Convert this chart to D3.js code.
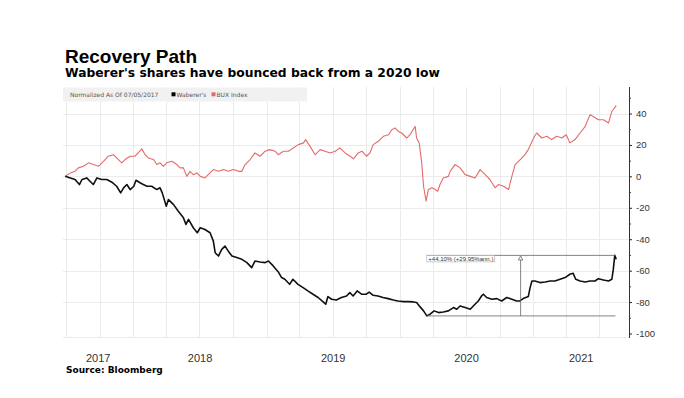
<!DOCTYPE html>
<html>
<head>
<meta charset="utf-8">
<script src="https://cdn.jsdelivr.net/npm/d3@7"></script>
<style>
  html, body { margin: 0; padding: 0; background: #fff; }
  svg { display: block; }
</style>
</head>
<body>
<svg id="chart" width="684" height="398"></svg>
<script>
// ---------------- DATA ----------------
const titleText = "Recovery Path";
const subtitleText = "Waberer's shares have bounced back from a 2020 low";
const sourceText = "Source: Bloomberg";
const legendNote = "Normalized As Of 07/05/2017";
const seriesNames = ["Waberer's", "BUX Index"];
const yearLabels = [2017, 2018, 2019, 2020, 2021];
const yTickValues = [40, 20, 0, -20, -40, -60, -80, -100];
const yMinorTickValues = [50, 30, 10, -10, -30, -50, -70, -90];

const wabDates = ["2017-06-28","2017-07-12","2017-07-25","2017-08-06","2017-08-13","2017-08-26","2017-09-04","2017-09-13","2017-09-23","2017-10-06","2017-10-20","2017-11-03","2017-11-16","2017-11-27","2017-12-05","2017-12-14","2017-12-23","2018-01-02","2018-01-08","2018-01-19","2018-01-28","2018-02-07","2018-02-20","2018-03-06","2018-03-15","2018-03-21","2018-04-01","2018-04-07","2018-04-21","2018-05-04","2018-05-18","2018-05-25","2018-06-01","2018-06-14","2018-06-25","2018-07-03","2018-07-16","2018-07-30","2018-08-08","2018-08-13","2018-08-22","2018-08-31","2018-09-09","2018-09-18","2018-09-28","2018-10-11","2018-10-25","2018-11-08","2018-11-21","2018-11-30","2018-12-14","2018-12-28","2019-01-06","2019-01-19","2019-02-02","2019-02-11","2019-02-20","2019-03-05","2019-03-14","2019-03-28","2019-04-11","2019-04-24","2019-05-08","2019-05-22","2019-06-05","2019-06-12","2019-06-18","2019-06-28","2019-07-11","2019-07-25","2019-08-08","2019-08-17","2019-08-26","2019-09-06","2019-09-18","2019-10-01","2019-10-09","2019-10-20","2019-11-02","2019-11-16","2019-11-30","2019-12-14","2019-12-27","2020-01-11","2020-01-24","2020-02-07","2020-02-16","2020-02-25","2020-03-06","2020-03-15","2020-03-24","2020-04-04","2020-04-16","2020-04-29","2020-05-13","2020-05-27","2020-06-05","2020-06-14","2020-06-28","2020-07-12","2020-07-25","2020-08-03","2020-08-12","2020-08-17","2020-08-26","2020-09-09","2020-09-23","2020-10-06","2020-10-20","2020-11-03","2020-11-16","2020-11-25","2020-12-04","2020-12-18","2020-12-23","2020-12-28","2021-01-05","2021-01-19","2021-02-02","2021-02-16","2021-03-01","2021-03-15","2021-03-29","2021-04-11","2021-04-20","2021-04-27","2021-05-09","2021-05-23","2021-06-05","2021-06-19","2021-06-28","2021-07-12","2021-07-26","2021-08-04","2021-08-08","2021-08-12","2021-08-16"];
const wabValues = [0,-1,-2,-5.2,-2,-1,-3.1,-5.2,-1,-2,-2,-3.7,-6.3,-10.5,-7.3,-5.2,-8.4,-6.3,-2.5,-4.1,-5.2,-6.3,-6.3,-8.4,-7.3,-10.5,-19,-14.8,-18,-22.2,-26.4,-30.6,-27.4,-32.7,-35.9,-32.7,-33.8,-35.9,-41.2,-48.6,-50.7,-46.5,-44.4,-47.6,-50.7,-51.7,-52.8,-54.9,-58.1,-53.9,-54.5,-54.9,-53.9,-57,-60.8,-64.4,-65.5,-68.7,-65.5,-68.7,-70.8,-72.9,-75,-77.1,-79.9,-81.4,-76.5,-78.2,-78.7,-77.1,-76.1,-74,-76.1,-72.9,-75,-75,-73.6,-75.7,-76.1,-77.1,-77.8,-78.7,-79.3,-79.7,-79.7,-79.9,-80.3,-82.9,-85.6,-88.8,-87.7,-85.6,-86.7,-86.3,-85.6,-83.5,-84.6,-82.5,-83.5,-84.6,-81.4,-79.3,-76.1,-75,-77.1,-78.2,-77.8,-79.3,-77.1,-78.2,-79.3,-79.3,-77.8,-76.5,-70.8,-66.6,-66.6,-67.6,-67.2,-66.6,-66.6,-65.5,-64.4,-62.3,-61.7,-65.5,-66.6,-67.2,-66.6,-66.6,-65.1,-66,-66.6,-65.5,-59.2,-50.3,-52.8];

const buxDates = ["2017-06-28","2017-07-12","2017-07-25","2017-08-03","2017-08-17","2017-08-31","2017-09-13","2017-09-27","2017-10-11","2017-10-24","2017-11-07","2017-11-16","2017-11-30","2017-12-09","2017-12-23","2018-01-05","2018-01-14","2018-01-24","2018-02-02","2018-02-11","2018-02-25","2018-03-06","2018-03-15","2018-03-24","2018-04-02","2018-04-16","2018-04-30","2018-05-09","2018-05-18","2018-05-27","2018-06-05","2018-06-14","2018-06-24","2018-07-03","2018-07-16","2018-07-25","2018-08-08","2018-08-22","2018-09-05","2018-09-18","2018-10-02","2018-10-16","2018-10-25","2018-11-03","2018-11-17","2018-11-30","2018-12-14","2018-12-28","2019-01-10","2019-01-24","2019-02-02","2019-02-16","2019-03-02","2019-03-15","2019-03-29","2019-04-12","2019-04-18","2019-04-30","2019-05-14","2019-05-28","2019-06-10","2019-06-24","2019-07-08","2019-07-21","2019-08-04","2019-08-18","2019-08-27","2019-09-09","2019-09-19","2019-10-02","2019-10-11","2019-10-20","2019-11-03","2019-11-17","2019-12-01","2019-12-10","2019-12-19","2019-12-28","2020-01-06","2020-01-20","2020-01-29","2020-02-06","2020-02-12","2020-02-16","2020-02-23","2020-03-01","2020-03-06","2020-03-13","2020-03-19","2020-03-29","2020-04-07","2020-04-14","2020-04-20","2020-04-29","2020-05-13","2020-05-18","2020-05-31","2020-06-14","2020-06-28","2020-07-12","2020-07-25","2020-08-08","2020-08-22","2020-09-04","2020-09-18","2020-09-27","2020-10-11","2020-10-25","2020-11-03","2020-11-12","2020-11-26","2020-12-09","2020-12-18","2021-01-04","2021-01-10","2021-01-24","2021-02-07","2021-02-20","2021-03-06","2021-03-20","2021-04-01","2021-04-11","2021-04-25","2021-05-09","2021-05-23","2021-06-05","2021-06-14","2021-06-28","2021-07-12","2021-07-26","2021-08-04","2021-08-16"];
const buxValues = [0,2.2,3.2,5.4,6.4,8.6,7.5,6.4,9.6,12.8,13.8,11.7,8.6,10.7,12.8,12.8,14.9,17.5,13.8,11.7,10.7,7.5,8.6,6.4,8.6,9.6,7.5,5.4,5.4,0,3.2,1.1,2.2,0,-1,1.1,4.3,3.2,4.3,3.2,4.3,3.2,3.2,7.5,10.7,14.9,12.8,16,17,16,13.8,16,16,18.1,20.2,21.3,23.4,19.1,13.8,17,16,14.9,16,18.1,14.9,12.8,11.1,14.9,16,12.8,14.9,20.2,22.3,25.5,26.5,29.7,30.8,28.6,27.6,24.4,26.5,29.7,31.8,24.4,21.3,8.6,-6.3,-15.8,-8.4,-7.3,-8.4,-9.5,-5.2,-1,0,3.2,7.5,5.4,1.1,0,-1,4.3,1.1,-2,-7.3,-5.2,-6.3,-8.4,0,7.5,10.7,13.8,17,25.5,27.6,24.4,25.5,23.4,25.5,24.4,26.5,21.3,23.4,27.6,31.8,39.2,38.1,36,36,34,41.3,45];

// annotation: low point, marker date, latest point
const annDates = ["2020-03-15", "2020-11-27", "2021-08-14"];
const annValues = [-88.8, -50.3];
const annLabel = "+44.10% (+29.95%ann.)";

// ---------------- LAYOUT ----------------
const parse = d3.timeParse("%Y-%m-%d");
const plot = { left: 63, right: 629, top: 87, bottom: 337 };
const svg = d3.select("#chart");

const x = d3.scaleTime()
  .domain([parse("2017-06-22"), parse("2021-09-20")])
  .range([plot.left, plot.right]);
const y = d3.scaleLinear().domain([-100, 40]).range([333.5, 113.5]);

const wab = wabDates.map((d, i) => ({ date: parse(d), value: wabValues[i] }));
const bux = buxDates.map((d, i) => ({ date: parse(d), value: buxValues[i] }));

// grid
const grid = svg.append("g").attr("stroke", "#ebebeb").attr("stroke-width", 1);
const qTicks = d3.timeMonth.every(3).range(x.domain()[0], x.domain()[1]);
grid.selectAll("line.v").data(qTicks).join("line")
  .attr("x1", d => Math.round(x(d)) + 0.5).attr("x2", d => Math.round(x(d)) + 0.5)
  .attr("y1", plot.top).attr("y2", plot.bottom);
grid.selectAll("line.h").data(yTickValues.filter(v => v > -100)).join("line")
  .attr("x1", plot.left).attr("x2", plot.right)
  .attr("y1", d => Math.round(y(d)) + 0.5).attr("y2", d => Math.round(y(d)) + 0.5);
grid.append("line").attr("x1", plot.left).attr("x2", plot.right)
  .attr("y1", plot.bottom + 0.5).attr("y2", plot.bottom + 0.5);

// legend bar
const lg = svg.append("g");
lg.append("rect").attr("x", 63).attr("y", 87.5).attr("width", 244).attr("height", 14).attr("fill", "#f1f1f1");
lg.append("text").attr("x", 70).attr("y", 96.6).text(legendNote)
  .attr("font-family", "DejaVu Sans").attr("font-size", 6).attr("fill", "#555");
const legendItems = [
  { name: seriesNames[0], color: "#000", x: 171.5 },
  { name: seriesNames[1], color: "#e46a6a", x: 211.5 }
];
legendItems.forEach(it => {
  lg.append("rect").attr("x", it.x).attr("y", 92.3).attr("width", 4).attr("height", 4).attr("fill", it.color);
  lg.append("text").attr("x", it.x + 5).attr("y", 96.6).text(it.name)
    .attr("font-family", "DejaVu Sans").attr("font-size", 6).attr("fill", "#555");
});

// lines
const line = d3.line().x(d => x(d.date)).y(d => y(d.value)).curve(d3.curveLinear);
svg.append("path").datum(bux).attr("d", line)
  .attr("fill", "none").attr("stroke", "#e46a6a").attr("stroke-width", 1.1).attr("stroke-linejoin", "round");
svg.append("path").datum(wab).attr("d", line)
  .attr("fill", "none").attr("stroke", "#111").attr("stroke-width", 1.6).attr("stroke-linejoin", "round");

// annotation
const ann = svg.append("g").attr("stroke", "#666").attr("stroke-width", 0.8).attr("fill", "none");
const ax0 = x(parse(annDates[0])), axm = x(parse(annDates[1])), ax1 = x(parse(annDates[2]));
const ayLow = y(annValues[0]), ayHigh = y(annValues[1]);
ann.append("line").attr("x1", ax0).attr("x2", ax1).attr("y1", ayLow).attr("y2", ayLow);
ann.append("line").attr("x1", ax0).attr("x2", ax1).attr("y1", ayHigh).attr("y2", ayHigh);
ann.append("line").attr("x1", axm).attr("x2", axm).attr("y1", ayLow).attr("y2", ayHigh + 4.5);
ann.append("path")
  .attr("d", `M${axm},${ayHigh + 0.6} L${axm - 2.3},${ayHigh + 4.6} L${axm + 2.3},${ayHigh + 4.6} Z`)
  .attr("fill", "#fff");
ann.append("rect").attr("x", ax0).attr("y", ayHigh).attr("width", 68).attr("height", 6.5)
  .attr("fill", "#fff").attr("stroke", "#999").attr("stroke-width", 0.5);
svg.append("text").attr("x", ax0 + 1.5).attr("y", ayHigh + 5.2).text(annLabel)
  .attr("font-family", "Liberation Sans").attr("font-size", 6).attr("fill", "#333");

// right axis
const axG = svg.append("g").attr("transform", `translate(${plot.right},0)`);
axG.call(d3.axisRight(y).tickValues(yTickValues).tickSize(3).tickPadding(4)
  .tickFormat(d => d < 0 ? "-" + Math.abs(d) : String(d)));
axG.select(".domain").remove();
axG.selectAll(".tick line").attr("stroke", "#222");
axG.selectAll(".tick text").attr("font-family", "Liberation Sans").attr("font-size", 9.5).attr("fill", "#333");
const minorG = svg.append("g").attr("transform", `translate(${plot.right},0)`);
minorG.call(d3.axisRight(y).tickValues(yMinorTickValues).tickSize(2).tickFormat(""));
minorG.select(".domain").remove();
minorG.selectAll(".tick line").attr("stroke", "#444");
svg.append("line").attr("x1", plot.right + 0.5).attr("x2", plot.right + 0.5)
  .attr("y1", plot.top).attr("y2", plot.bottom + 1).attr("stroke", "#333").attr("stroke-width", 1);

// x year labels (centred on visible portion of each year)
const [d0, d1] = x.domain();
svg.append("g").selectAll("text").data(yearLabels).join("text")
  .attr("x", yr => {
    const s = new Date(Math.max(new Date(yr, 0, 1), d0));
    const e = new Date(Math.min(new Date(yr + 1, 0, 1), d1));
    return (x(s) + x(e)) / 2;
  })
  .attr("y", 361.7).attr("text-anchor", "middle")
  .attr("font-family", "Liberation Sans").attr("font-size", 11).attr("fill", "#333")
  .text(d => d);

// titles
svg.append("text").attr("x", 65).attr("y", 63).text(titleText)
  .attr("font-family", "Liberation Sans").attr("font-weight", "bold").attr("font-size", 19).attr("fill", "#000");
svg.append("text").attr("x", 65).attr("y", 77).text(subtitleText)
  .attr("font-family", "DejaVu Sans").attr("font-weight", "bold").attr("font-size", 12.3).attr("fill", "#000");
svg.append("text").attr("x", 66).attr("y", 373).text(sourceText)
  .attr("font-family", "DejaVu Sans").attr("font-weight", "bold").attr("font-size", 9).attr("fill", "#000");
</script>
</body>
</html>
